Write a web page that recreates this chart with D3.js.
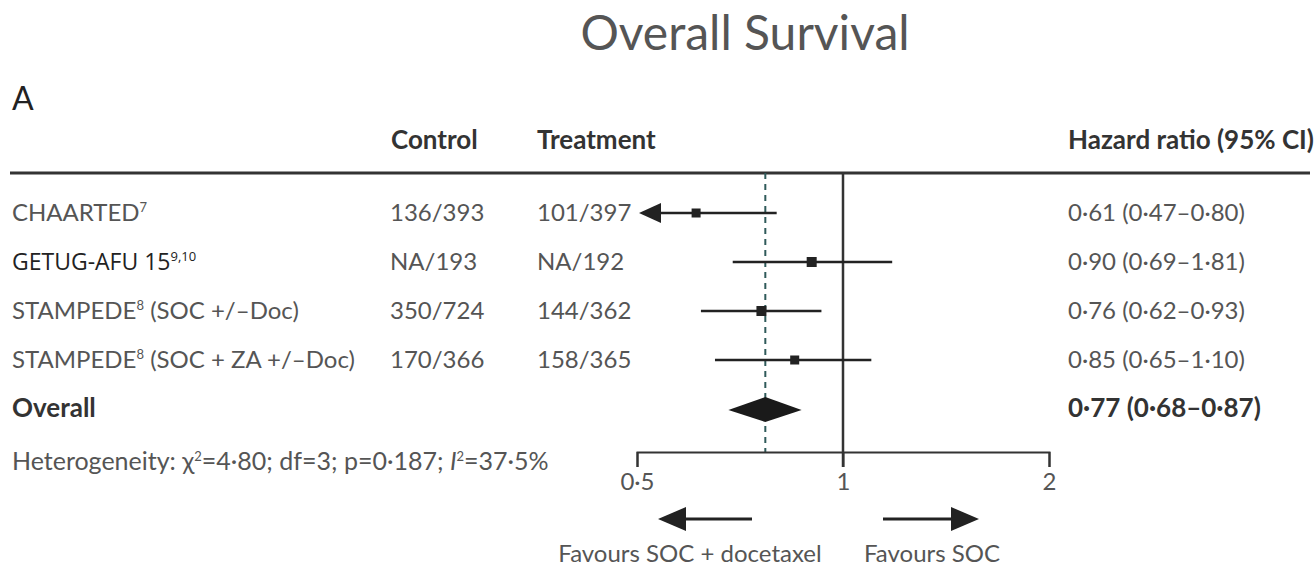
<!DOCTYPE html>
<html>
<head>
<meta charset="utf-8">
<script src="https://cdn.jsdelivr.net/npm/d3@7"></script>
<style>
  body { margin: 0; background: #fff; }
  svg { display: block; font-family: Lato, "Open Sans", sans-serif; }
  .txt { fill: #555; font-size: 24px; }
  .hdr { fill: #333; font-size: 26px; font-weight: bold; }
  .axis text { fill: #555; font-size: 24px; font-family: Lato, sans-serif; }
  .axis path, .axis line { stroke: #333; stroke-width: 2; }
</style>
</head>
<body>
<div id="chart"></div>
<script>
// study rows
var studies = ["CHAARTED", "GETUG-AFU 15", "STAMPEDE", "STAMPEDE"];
var studyRefs = ["7", "9,10", "8", "8"];
var studyArms = ["", "", " (SOC +/\u2013Doc)", " (SOC + ZA +/\u2013Doc)"];
var controlEvents = ["136/393", "NA/193", "350/724", "170/366"];
var treatmentEvents = ["101/397", "NA/192", "144/362", "158/365"];
var hr = [0.61, 0.90, 0.76, 0.85];
var ciLow = [0.47, 0.69, 0.62, 0.65];
var ciHigh = [0.80, 1.18, 0.93, 1.10];   // as drawn in the figure
var hrLabels = ["0\u00b761 (0\u00b747\u20130\u00b780)", "0\u00b790 (0\u00b769\u20131\u00b781)",
                "0\u00b776 (0\u00b762\u20130\u00b793)", "0\u00b785 (0\u00b765\u20131\u00b710)"];
var boxSize = [9, 10, 10, 9];

// pooled estimate
var overallHr = 0.77, overallLow = 0.68, overallHigh = 0.87;
var overallLabel = "0\u00b777 (0\u00b768\u20130\u00b787)";

var tickValues = [0.5, 1, 2];
var tickLabels = ["0\u00b75", "1", "2"];

var width = 1316, height = 572;
var headerY = 173, axisY = 452;

var svg = d3.select("#chart").append("svg")
    .attr("width", width)
    .attr("height", height);

var x = d3.scaleLog().domain([0.5, 2]).range([637, 1049]);
var y = d3.scalePoint()
    .domain(studies.map(function (d, i) { return i; }).concat(["overall"]))
    .range([213, 409]);

// title
svg.append("text").attr("x", 745).attr("y", 50)
    .attr("text-anchor", "middle")
    .style("font-size", "48px").style("fill", "#555")
    .text("Overall Survival");
svg.append("text").attr("x", 12).attr("y", 110)
    .style("font-size", "32px").style("fill", "#222")
    .text("A");

// column headers
svg.append("text").attr("class", "hdr").attr("x", 391).attr("y", 149).text("Control");
svg.append("text").attr("class", "hdr").attr("x", 537).attr("y", 149).text("Treatment");
svg.append("text").attr("class", "hdr").attr("x", 1068).attr("y", 149).text("Hazard ratio (95% CI)");

svg.append("line")
    .attr("x1", 10).attr("x2", 1310)
    .attr("y1", headerY).attr("y2", headerY)
    .attr("stroke", "#333").attr("stroke-width", 3);

// reference lines
svg.append("line")
    .attr("x1", x(1)).attr("x2", x(1))
    .attr("y1", headerY).attr("y2", axisY + 15)
    .attr("stroke", "#333").attr("stroke-width", 2.5);
svg.append("line")
    .attr("x1", x(overallHr)).attr("x2", x(overallHr))
    .attr("y1", headerY).attr("y2", axisY)
    .attr("stroke", "#2f5a5a").attr("stroke-width", 2)
    .attr("stroke-dasharray", "6,5");

// row text
var rows = svg.append("g").selectAll("g")
    .data(studies)
    .enter().append("g");

rows.each(function (d, i) {
    var g = d3.select(this);
    var by = y(i) + 8;
    var lab = g.append("text").attr("x", 12).attr("y", by).attr("class", "txt");
    if (i == 1) {
        lab.style("fill", "#222").style("font-family", "'Open Sans', sans-serif").style("font-size", "23px");
    }
    lab.append("tspan").text(d);
    lab.append("tspan").attr("dy", -9).style("font-size", "13px").text(studyRefs[i]);
    lab.append("tspan").attr("dy", 9).text(studyArms[i]);
    g.append("text").attr("class", "txt").attr("x", 390).attr("y", by).text(controlEvents[i]);
    g.append("text").attr("class", "txt").attr("x", 537).attr("y", by).text(treatmentEvents[i]);
    g.append("text").attr("class", "txt").attr("x", 1068).attr("y", by).text(hrLabels[i]);
});

// confidence intervals
var lo = x.domain()[0];
rows.append("line")
    .attr("x1", function (d, i) { return ciLow[i] < lo ? x(lo) + 18 : x(ciLow[i]); })
    .attr("x2", function (d, i) { return x(ciHigh[i]); })
    .attr("y1", function (d, i) { return y(i); })
    .attr("y2", function (d, i) { return y(i); })
    .attr("stroke", "#222").attr("stroke-width", 2.5);

// clipped interval arrow
rows.filter(function (d, i) { return ciLow[i] < lo; })
    .append("path")
    .attr("d", function (d) {
        var i = studies.indexOf(d), tx = x(lo) + 2, cy = y(i);
        return "M" + tx + "," + cy + "L" + (tx + 22) + "," + (cy - 10) + "L" + (tx + 22) + "," + (cy + 10) + "Z";
    })
    .attr("fill", "#222");

rows.append("rect")
    .attr("x", function (d, i) { return x(hr[i]) - boxSize[i] / 2; })
    .attr("y", function (d, i) { return y(i) - boxSize[i] / 2; })
    .attr("width", function (d, i) { return boxSize[i]; })
    .attr("height", function (d, i) { return boxSize[i]; })
    .attr("fill", "#222");

// overall row
var oy = y("overall");
svg.append("text").attr("class", "hdr").attr("x", 12).attr("y", oy + 8).text("Overall");
svg.append("text").attr("class", "hdr").attr("x", 1068).attr("y", oy + 8).text(overallLabel);
svg.append("path")
    .attr("d", "M" + x(overallLow) + "," + (oy + 1) +
        "L" + x(overallHr) + "," + (oy - 12) +
        "L" + x(overallHigh) + "," + (oy + 1) +
        "L" + x(overallHr) + "," + (oy + 13) + "Z")
    .attr("fill", "#1a1a1a");

// heterogeneity
var het = svg.append("text").attr("class", "txt").attr("x", 12).attr("y", 470)
    .style("font-size", "25px");
het.append("tspan").text("Heterogeneity: \u03c7");
het.append("tspan").attr("dy", -9).style("font-size", "13px").text("2");
het.append("tspan").attr("dy", 9).text("=4\u00b780; df=3; p=0\u00b7187; ");
het.append("tspan").style("font-style", "italic").text("I");
het.append("tspan").attr("dy", -9).style("font-size", "13px").text("2");
het.append("tspan").attr("dy", 9).text("=37\u00b75%");

// axis
svg.append("g")
    .attr("class", "axis")
    .attr("transform", "translate(0," + axisY + ")")
    .call(d3.axisBottom(x)
        .tickValues(tickValues)
        .tickFormat(function (d, i) { return tickLabels[i]; })
        .tickSize(15)
        .tickPadding(6));

// direction arrows
function arrow(x1, x2, yy) {
    var dir = x2 > x1 ? 1 : -1;
    svg.append("line")
        .attr("x1", x1).attr("x2", x2 - dir * 24)
        .attr("y1", yy).attr("y2", yy)
        .attr("stroke", "#222").attr("stroke-width", 3);
    svg.append("path")
        .attr("d", "M" + x2 + "," + yy + "L" + (x2 - dir * 28) + "," + (yy - 12) +
            "L" + (x2 - dir * 28) + "," + (yy + 12) + "Z")
        .attr("fill", "#222");
}
arrow(752, 658, 519);
arrow(883, 979, 519);

svg.append("text").attr("class", "txt").attr("x", 690).attr("y", 562)
    .attr("text-anchor", "middle").text("Favours SOC + docetaxel");
svg.append("text").attr("class", "txt").attr("x", 932).attr("y", 562)
    .attr("text-anchor", "middle").text("Favours SOC");
</script>
</body>
</html>
